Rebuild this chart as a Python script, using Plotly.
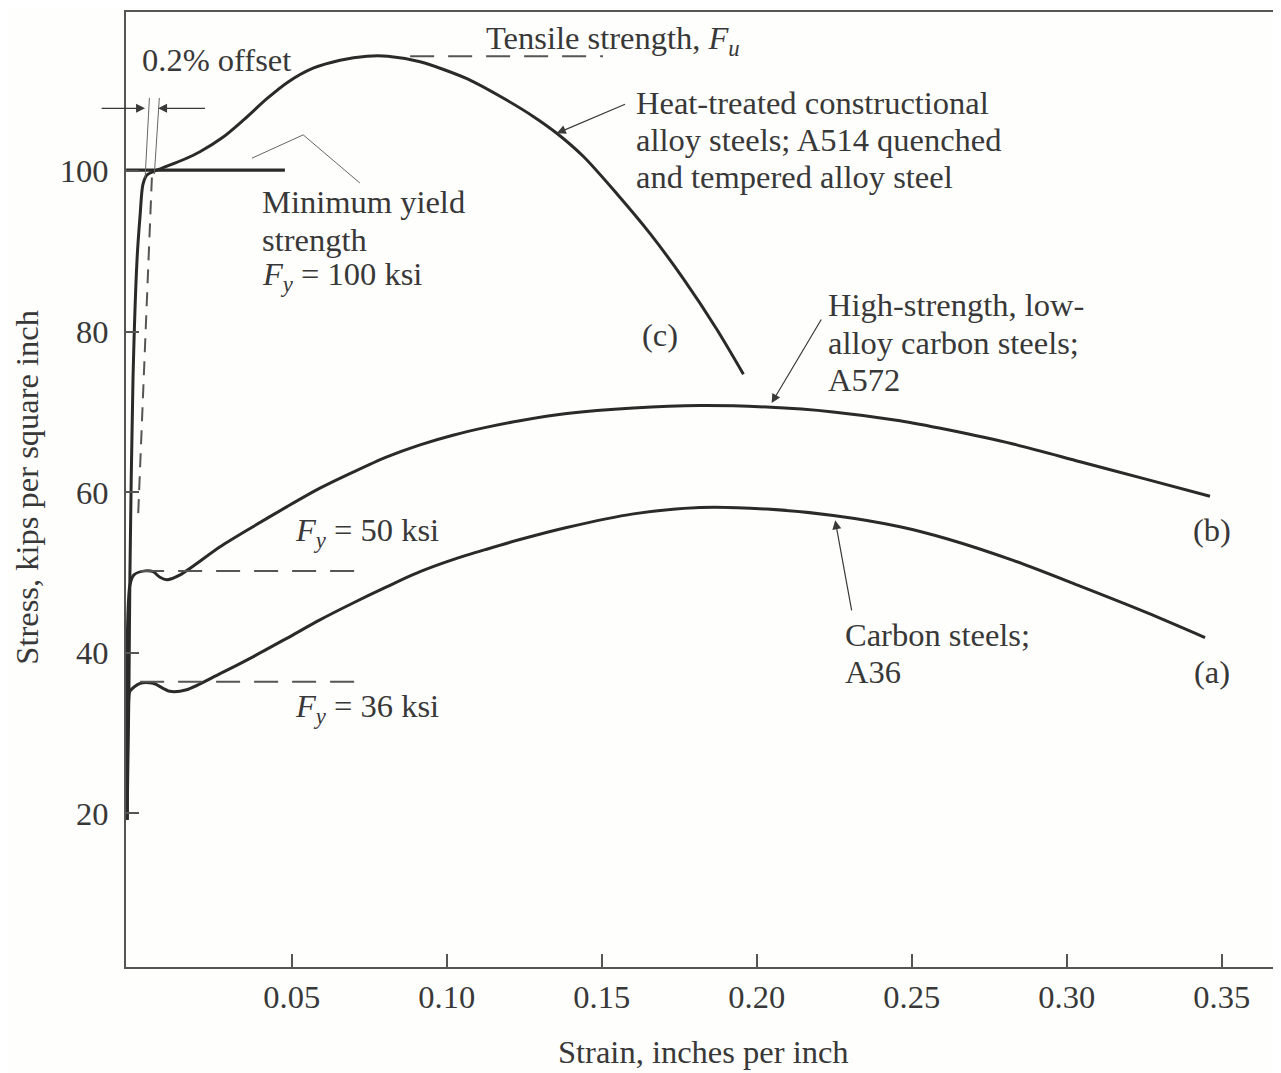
import plotly.graph_objects as go

# ---------------- data (strain in in/in, stress in ksi) ----------------
# (c) Heat-treated constructional alloy steel, A514
strain_c = [-0.0031, -0.0025, -0.0022, -0.0012, 0.0001, 0.0011, 0.0020, 0.0033, 0.0059,
            0.0098, 0.0150, 0.0204, 0.0278, 0.0343, 0.0420, 0.0485, 0.0569, 0.0656,
            0.0743, 0.0810, 0.0914, 0.1065, 0.1172, 0.1279, 0.1355, 0.1441, 0.1548,
            0.1656, 0.1763, 0.1871, 0.1957]
stress_c = [19.2, 35.4, 49.3, 74.0, 88.9, 94.5, 98.3, 99.5, 100.0,
            100.6, 101.4, 102.4, 104.2, 106.3, 109.0, 111.0, 112.8, 113.8,
            114.3, 114.3, 113.6, 111.5, 109.3, 106.8, 104.7, 101.8, 97.2,
            92.2, 86.6, 80.3, 74.7]

# (b) High-strength low-alloy carbon steel, A572
strain_b = [-0.0031, -0.0022, -0.0009, 0.0027, 0.0053, 0.0075, 0.0098, 0.0140, 0.0269,
            0.0375, 0.0485, 0.0591, 0.0698, 0.0807, 0.0914, 0.1020, 0.1130, 0.1236,
            0.1387, 0.1602, 0.1817, 0.2032, 0.2246, 0.2462, 0.2613, 0.2827, 0.3043,
            0.3258, 0.3462]
stress_b = [19.2, 48.4, 49.7, 50.2, 50.1, 49.4, 49.1, 49.7, 53.2,
            55.7, 58.2, 60.5, 62.5, 64.4, 65.9, 67.1, 68.1, 68.9,
            69.8, 70.5, 70.8, 70.6, 70.0, 68.9, 67.8, 66.0, 63.8,
            61.6, 59.5]

# (a) Carbon steel, A36
strain_a = [-0.0031, -0.0026, -0.0022, 0.0011, 0.0053, 0.0107, 0.0161, 0.0269, 0.0375,
            0.0484, 0.0591, 0.0698, 0.0806, 0.0914, 0.1020, 0.1129, 0.1236, 0.1387,
            0.1602, 0.1817, 0.2032, 0.2247, 0.2462, 0.2613, 0.2827, 0.3043, 0.3258,
            0.3446]
stress_a = [19.2, 34.1, 35.2, 36.2, 36.2, 35.2, 35.4, 37.4, 39.5,
            41.8, 44.1, 46.2, 48.2, 50.1, 51.6, 52.9, 54.1, 55.6,
            57.3, 58.1, 57.9, 57.1, 55.7, 54.2, 51.5, 48.3, 45.0,
            41.9]

# reference lines
yield_100_strain = [-0.0034, 0.0478]
yield_100_stress = [100.1, 100.1]
offset_strain = [0.0049, 0.0004]
offset_stress = [99.2, 56.5]
gauge1_strain = [0.0041, 0.0027]
gauge1_stress = [109.1, 99.1]
gauge2_strain = [0.0073, 0.0057]
gauge2_stress = [109.1, 99.6]
fu_strain = [0.0882, 0.1504]
fu_stress = [114.3, 114.3]
fy50_strain = [0.0011, 0.0705]
fy50_stress = [50.2, 50.2]
fy36_strain = [0.0011, 0.0705]
fy36_stress = [36.4, 36.4]
leader_strain = [0.0372, 0.0537, 0.0720]
leader_stress = [101.6, 104.5, 98.5]

x_ticks = [0.05, 0.10, 0.15, 0.20, 0.25, 0.30, 0.35]
x_tick_text = ["0.05", "0.10", "0.15", "0.20", "0.25", "0.30", "0.35"]
y_ticks = [20, 40, 60, 80, 100]
y_tick_text = ["20", "40", "60", "80", "100"]

# ---------------- styling ----------------
INK = "#2a2a2a"
TXT = "#383838"
AX = "#555555"
FONT = "Liberation Serif"
FS = 32.5

fig = go.Figure()

def curve(x, y, width=3.0, dash="solid", color=INK, shape="spline"):
    fig.add_trace(go.Scatter(x=x, y=y, mode="lines",
                             line=dict(color=color, width=width, dash=dash,
                                       shape=shape, smoothing=0.8 if shape == "spline" else None),
                             hoverinfo="skip", showlegend=False, cliponaxis=False))

curve(strain_c, stress_c)
curve(strain_b, stress_b)
curve(strain_a, stress_a)
curve(yield_100_strain, yield_100_stress, width=3.2, shape="linear")
curve(offset_strain, offset_stress, width=2.0, dash="14px,9px", color="#555555", shape="linear")
curve(gauge1_strain, gauge1_stress, width=1.0, color="#666666", shape="linear")
curve(gauge2_strain, gauge2_stress, width=1.0, color="#666666", shape="linear")
curve(fu_strain, fu_stress, width=2.0, dash="24px,14px", color="#555555", shape="linear")
curve(fy50_strain, fy50_stress, width=2.0, dash="24px,14px", color="#555555", shape="linear")
curve(fy36_strain, fy36_stress, width=2.0, dash="24px,14px", color="#555555", shape="linear")
curve(leader_strain, leader_stress, width=1.0, color="#666666", shape="linear")

annotations = []

def text(x, y, s, anchor="left"):
    annotations.append(dict(x=x, y=y, xref="x", yref="y", text=s, showarrow=False,
                            xanchor=anchor, yanchor="middle",
                            font=dict(family=FONT, size=FS, color=TXT)))

def arrow(x, y, ax, ay):
    annotations.append(dict(x=x, y=y, ax=ax, ay=ay, xref="x", yref="y", axref="x", ayref="y",
                            text="", showarrow=True, arrowhead=2, arrowsize=1.5,
                            arrowwidth=1.2, arrowcolor="#3a3a3a", standoff=0, startstandoff=0))

text(0.0011, 113.8, "0.2% offset")
text(0.1120, 116.3, "Tensile strength, <i>F</i><sub><i>u</i></sub>")
text(0.1604, 108.5, "Heat-treated constructional")
text(0.1604, 103.9, "alloy steels; A514 quenched")
text(0.1604, 99.3, "and tempered alloy steel")
text(0.0398, 96.1, "Minimum yield")
text(0.0398, 91.4, "strength")
text(0.0398, 86.8, "<i>F</i><sub><i>y</i></sub> = 100 ksi")
text(0.2224, 83.3, "High-strength, low-")
text(0.2224, 78.6, "alloy carbon steels;")
text(0.2224, 74.0, "A572")
text(0.1688, 79.6, "(c)", anchor="center")
text(0.0504, 55.0, "<i>F</i><sub><i>y</i></sub> = 50 ksi")
text(0.0504, 33.1, "<i>F</i><sub><i>y</i></sub> = 36 ksi")
text(0.3469, 55.3, "(b)", anchor="center")
text(0.2278, 42.2, "Carbon steels;")
text(0.2278, 37.6, "A36")
text(0.3469, 37.6, "(a)", anchor="center")

arrow(0.1355, 104.7, 0.1580, 108.4)
arrow(0.2048, 71.1, 0.2211, 81.7)
arrow(0.2253, 56.5, 0.2307, 45.1)
arrow(0.0027, 107.8, -0.0118, 107.8)
arrow(0.0069, 107.8, 0.0225, 107.8)

# axis titles as positioned text
annotations.append(dict(x=0.5, y=-0.0885, xref="paper", yref="paper",
                        text="Strain, inches per inch", showarrow=False,
                        xanchor="center", yanchor="middle",
                        font=dict(family=FONT, size=FS, color=TXT)))
annotations.append(dict(x=-0.086, y=0.5026, xref="paper", yref="paper",
                        text="Stress, kips per square inch", showarrow=False, textangle=-90,
                        xanchor="center", yanchor="middle",
                        font=dict(family=FONT, size=FS, color=TXT)))

fig.update_layout(
    width=1273, height=1065,
    margin=dict(l=118, r=0, t=4, b=106),
    paper_bgcolor="#fefefc", plot_bgcolor="#fefefc",
    font=dict(family=FONT, size=FS, color=TXT),
    annotations=annotations,
    xaxis=dict(range=[-0.00345, 0.3691], tickvals=x_ticks, ticktext=x_tick_text,
               ticks="inside", ticklen=13, tickwidth=1.5, tickcolor=AX,
               showline=True, linecolor=AX, linewidth=2, mirror=True,
               showgrid=False, zeroline=False,
               tickfont=dict(family=FONT, size=FS, color=TXT)),
    yaxis=dict(range=[0.87, 119.8], tickvals=y_ticks, ticktext=y_tick_text,
               ticks="inside", ticklen=13, tickwidth=1.5, tickcolor=AX,
               showline=True, linecolor=AX, linewidth=2,
               showgrid=False, zeroline=False, ticklabelstandoff=9,
               tickfont=dict(family=FONT, size=FS, color=TXT)),
)

fig.write_html("out.html")
